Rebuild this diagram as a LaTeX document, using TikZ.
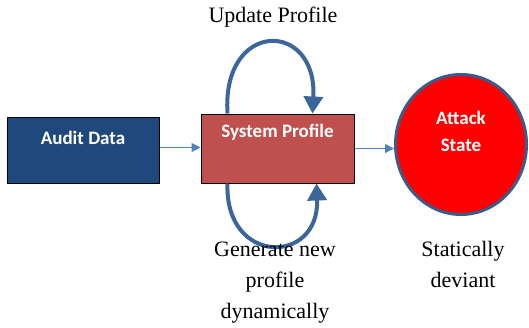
\documentclass[tikz,border=0pt]{standalone}
\usepackage{fontspec}
\setmainfont{Liberation Serif}
\newfontfamily\boxfont{Carlito}
\usetikzlibrary{arrows.meta,shapes.geometric}

\definecolor{auditblue}{RGB}{31,73,125}
\definecolor{profilered}{RGB}{192,80,77}
\definecolor{stateborder}{RGB}{56,93,138}
\definecolor{flowblue}{RGB}{79,129,189}
\definecolor{loopblue}{RGB}{58,102,153}

\tikzset{
  box/.style={draw=black,line width=1pt,minimum width=152pt,minimum height=66pt,inner sep=0pt},
  boxtext/.style={text=white,font=\boxfont\bfseries\fontsize{19}{27}\selectfont,inner sep=0pt,align=center},
  caption/.style={font=\fontsize{22}{31}\selectfont,align=center,inner sep=0pt},
  flow/.style={flowblue,line width=1pt,-{Triangle[length=9pt,width=9pt]}},
  loopback/.style={loopblue,line width=4pt,-{Triangle[length=17pt,width=19pt]}}
}

\begin{document}
\begin{tikzpicture}[x=1pt,y=-1pt]

\useasboundingbox (0,0) rectangle (529,327);

\node [box,fill=auditblue] (audit) at (83,150.5) {};
\node [boxtext] (audittext) at ([yshift=-21pt]audit.north) {Audit Data};

\node [box,fill=profilered,minimum width=153pt,minimum height=69pt] (profile) at (277.5,148.5) {};
\node [boxtext] (profiletext) at ([yshift=-19pt]profile.north) {System Profile};

\node [ellipse,draw=stateborder,line width=3pt,fill=red,minimum width=131pt,minimum height=140pt,inner sep=0pt] (state) at (461,144.5) {};
\node [boxtext] (statetext) at ([yshift=-58pt]state.north) {Attack\\State};

\draw [flow] ([yshift=3pt]audit.east) -- ([yshift=1pt]profile.west);
\draw [flow] (profile.east) -- (profile.east -| state.west);

% update and regenerate loops
\draw [loopback] ([xshift=27pt]profile.north west) .. controls +(-6,-94) and +(5,-94) .. ([xshift=112pt]profile.north west);
\draw [loopback] ([xshift=27pt]profile.south west) .. controls +(-3,82) and +(3,82) .. ([xshift=116pt]profile.south west);

\node [caption] (update) at (273,17) {Update Profile};
\node [caption] (generate) at (275,283) {Generate new\\profile\\dynamically};
\node [caption] (deviant) at (463,264) {Statically\\deviant};

\end{tikzpicture}
\end{document}
